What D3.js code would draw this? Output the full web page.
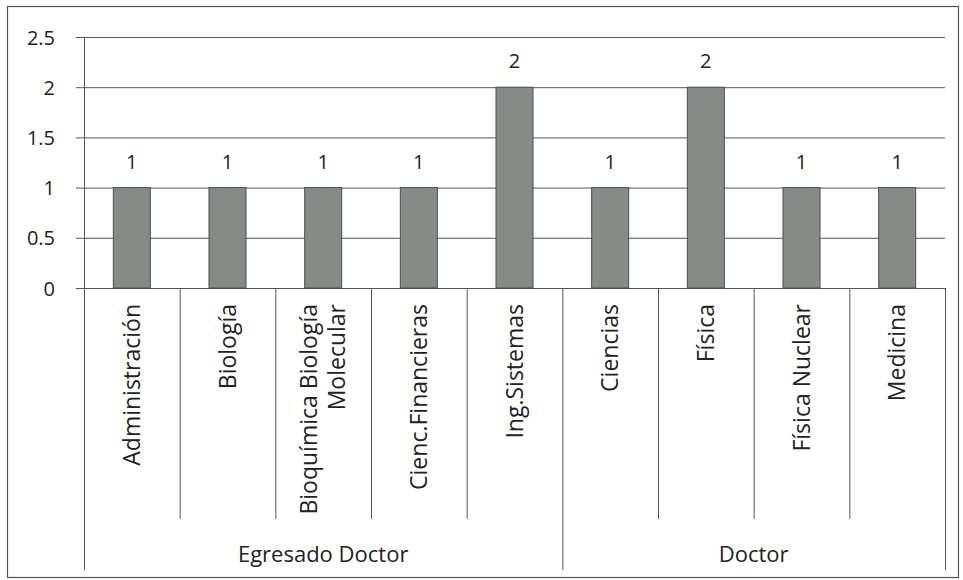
<!DOCTYPE html>
<html><head><meta charset="utf-8">
<script src="https://cdn.jsdelivr.net/npm/d3@7"></script>
<style>body{margin:0;background:#fff}svg{display:block}text{font-family:"Open Sans",Carlito,Calibri,sans-serif;fill:#222}</style>
</head><body><svg id="c" width="963" height="580"></svg>
<script>
const categories = [["Administración"],["Biología"],["Bioquímica Biología","Molecular"],["Cienc.Financieras"],["Ing.Sistemas"],["Ciencias"],["Física"],["Física Nuclear"],["Medicina"]];
const values = [1,1,1,1,2,1,2,1,1];
const groups = ["Egresado Doctor","Egresado Doctor","Egresado Doctor","Egresado Doctor","Egresado Doctor","Doctor","Doctor","Doctor","Doctor"];
const yTicks = [0,0.5,1,1.5,2,2.5];

const svg = d3.select("#c");
const L=84,R=945,T=37,B=288;
svg.append("rect").attr("x",7.5).attr("y",6.5).attr("width",951).attr("height",571).attr("fill","none").attr("stroke","#555").attr("stroke-width",1.2);

const idx = d3.range(values.length);
const x = d3.scaleBand().domain(idx).range([L,R]).paddingInner(0).paddingOuter(0);
const y = d3.scaleLinear().domain([0,2.5]).range([B,T]);

const yAxis = d3.axisLeft(y).tickValues(yTicks).tickSize(8).tickFormat(d=>String(d));
const ga = svg.append("g").attr("transform",`translate(${L},0)`).call(yAxis);
ga.select(".domain").remove();
ga.selectAll(".tick line").attr("stroke","#555").attr("stroke-width",1);
ga.selectAll(".tick text").attr("x",-29).style("font-size","20px").attr("dy","0.35em").attr("fill","#222");
svg.append("g").selectAll("line").data(yTicks).join("line")
  .attr("x1",L).attr("x2",R).attr("y1",d=>y(d)+0.5).attr("y2",d=>y(d)+0.5)
  .attr("stroke","#555").attr("stroke-width",1);

svg.append("line").attr("x1",L+0.5).attr("x2",L+0.5).attr("y1",T).attr("y2",570).attr("stroke","#555");

const bw = 37;
svg.append("g").selectAll("rect").data(idx).join("rect")
  .attr("x",i=>x(i)+x.bandwidth()/2-bw/2).attr("width",bw)
  .attr("y",i=>y(values[i])).attr("height",i=>y(0)-y(values[i]))
  .attr("fill","#858b87").attr("stroke","#4a4f4c").attr("stroke-width",1);

svg.append("g").selectAll("text").data(idx).join("text")
  .attr("x",i=>x(i)+x.bandwidth()/2).attr("y",i=>y(values[i])-19)
  .attr("text-anchor","middle").style("font-size","20px").text(i=>values[i]);

const groupNames = Array.from(new Set(groups));
for(let i=1;i<=values.length;i++){
  const isGroupEdge = i===values.length || groups[i]!==groups[i-1];
  const xx = (i===values.length? R : x(i)) + 0.5;
  svg.append("line").attr("x1",xx).attr("x2",xx).attr("y1",B).attr("y2",isGroupEdge?570:519).attr("stroke","#555");
}

const cl = svg.append("g");
idx.forEach(i=>{
  const lines = categories[i];
  const cx = x(i)+x.bandwidth()/2;
  const t = cl.append("text").attr("transform",`translate(${cx},304) rotate(-90)`).attr("text-anchor","end").style("font-size","23px");
  lines.forEach((ln,k)=>{
    const off = (k-(lines.length-1)/2)*28;
    t.append("tspan").attr("x",0).attr("y",off).attr("dy","0.35em").text(ln);
  });
});

groupNames.forEach(g=>{
  const ids = idx.filter(i=>groups[i]===g);
  const x0 = x(ids[0]), x1 = x(ids[ids.length-1])+x.bandwidth();
  svg.append("text").attr("x",(x0+x1)/2).attr("y",562).attr("text-anchor","middle").style("font-size","22px").text(g);
});
</script></body></html>
